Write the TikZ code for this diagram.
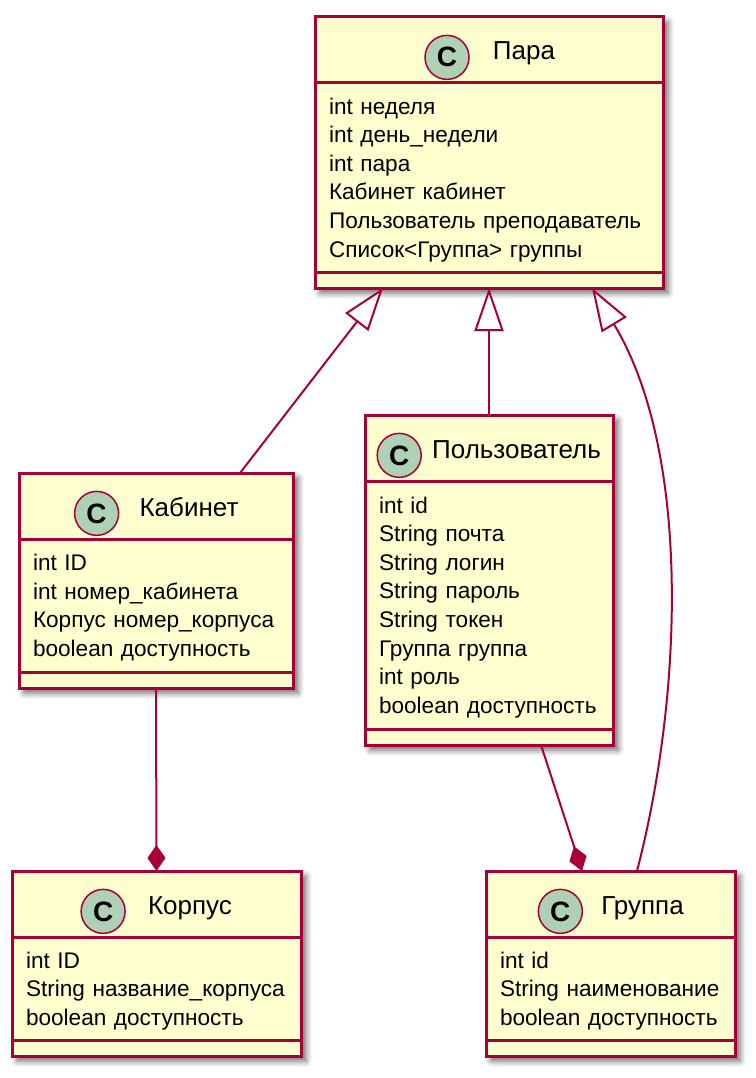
\documentclass[tikz,border=0pt]{standalone}
\usepackage{fontspec}
\setmainfont{Liberation Sans}
\usetikzlibrary{positioning, arrows.meta, shadows.blur, fit}
\definecolor{umlred}{HTML}{A80036}
\definecolor{umlfill}{HTML}{FEFECE}
\definecolor{umlgreen}{HTML}{ADD1B2}
\pgfdeclarelayer{bg}
\pgfsetlayers{bg,main}

\begin{document}
\begin{tikzpicture}[x=1pt, y=-1pt, font=\fontsize{22.6}{28.6}\selectfont,
	b/.style={draw=umlred, fill=umlfill, line width=3pt, outer sep=0pt, inner sep=0pt},
	sh/.style={fill=umlfill, inner sep=0pt, blur shadow={shadow xshift=5pt, shadow yshift=-5pt, shadow blur radius=6pt, shadow opacity=60}},
	h/.style={b, minimum height=66pt},
	a/.style={b, inner xsep=14pt, align=left, execute at begin node={\rule{0pt}{21pt}}},
	m/.style={b, minimum height=16pt},
	n/.style={inner sep=0pt, anchor=base, font=\fontsize{26}{28}\selectfont},
	c/.style={circle, draw=umlred, fill=umlgreen, line width=1.5pt, minimum size=44pt, inner sep=0pt, font=\fontsize{28}{28}\bfseries\selectfont},
	i/.style={line width=2pt, umlred, -{Triangle[fill=white, length=43pt, width=29pt]}},
	k/.style={line width=2pt, umlred, -{Diamond[length=26pt, width=18pt]}}]
	\useasboundingbox (0,0) rectangle (755,1078);

	% Пара
	\node[h, minimum width=348pt] (Para) at (489,50) {};
	\node[n] (Para_name) at (524,60) {Пара};
	\node[c, left=23pt of Para_name.mid west] (Para_c) {C};
	\node[a, below=0pt of Para, text width=320pt, minimum height=189pt] (Para_attr) {int неделя\\int день\_недели\\int пара\\Кабинет кабинет\\Пользователь преподаватель\\Список<Группа> группы};
	\node[m, below=0pt of Para_attr, minimum width=348pt] (Para_meth) {};

	% Кабинет
	\node[h, minimum width=274pt] (Kabinet) at (156,506) {};
	\node[n] (Kabinet_name) at (189,516) {Кабинет};
	\node[c, left=20pt of Kabinet_name.mid west] (Kabinet_c) {C};
	\node[a, below=0pt of Kabinet, text width=246pt, minimum height=133pt] (Kabinet_attr) {int ID\\int номер\_кабинета\\Корпус номер\_корпуса\\boolean доступность};
	\node[m, below=0pt of Kabinet_attr, minimum width=274pt] (Kabinet_meth) {};

	% Пользователь
	\node[h, minimum width=248pt] (Polzovatel) at (489,448) {};
	\node[n] (Polzovatel_name) at (516.5,458) {Пользователь};
	\node[c, left=10pt of Polzovatel_name.mid west] (Polzovatel_c) {C};
	\node[a, below=0pt of Polzovatel, text width=220pt, minimum height=248pt] (Polzovatel_attr) {int id\\String почта\\String логин\\String пароль\\String токен\\Группа группа\\int роль\\boolean доступность};
	\node[m, below=0pt of Polzovatel_attr, minimum width=248pt] (Polzovatel_meth) {};

	% Корпус
	\node[h, minimum width=289pt] (Korpus) at (156.5,904) {};
	\node[n] (Korpus_name) at (190,914) {Корпус};
	\node[c, left=22pt of Korpus_name.mid west] (Korpus_c) {C};
	\node[a, below=0pt of Korpus, text width=261pt, minimum height=103pt] (Korpus_attr) {int ID\\String название\_корпуса\\boolean доступность};
	\node[m, below=0pt of Korpus_attr, minimum width=289pt] (Korpus_meth) {};

	% Группа
	\node[h, minimum width=249pt] (Gruppa) at (610.5,904) {};
	\node[n] (Gruppa_name) at (642.5,914) {Группа};
	\node[c, left=18pt of Gruppa_name.mid west] (Gruppa_c) {C};
	\node[a, below=0pt of Gruppa, text width=221pt, minimum height=103pt] (Gruppa_attr) {int id\\String наименование\\boolean доступность};
	\node[m, below=0pt of Gruppa_attr, minimum width=249pt] (Gruppa_meth) {};

	% shadows behind the whole class boxes
	\begin{pgfonlayer}{bg}
		\foreach \cls in {Para, Kabinet, Polzovatel, Korpus, Gruppa}
			\node[sh, fit=(\cls)(\cls_meth)] {};
	\end{pgfonlayer}

	\draw[i] ([xshift=84pt]Kabinet.north) -- ([xshift=-106pt]Para_meth.south);
	\draw[i] (Polzovatel.north) -- (Para_meth.south);
	\draw[i] ([xshift=26.5pt]Gruppa.north) .. controls (684,690) and (690,450) .. ([xshift=103pt]Para_meth.south);
	\draw[k] (Kabinet_meth.south) -- (Korpus.north);
	\draw[k] ([xshift=52pt]Polzovatel_meth.south) -- ([xshift=-28.5pt]Gruppa.north);
\end{tikzpicture}
\end{document}
